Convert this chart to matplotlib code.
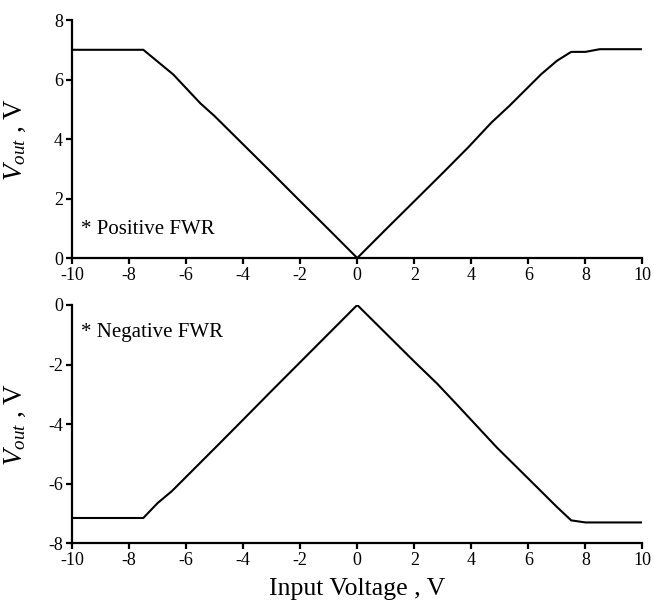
import matplotlib
matplotlib.use('Agg')
import matplotlib.pyplot as plt

plt.rcParams['font.family'] = ['Liberation Serif', 'DejaVu Serif']
plt.rcParams['mathtext.fontset'] = 'custom'
plt.rcParams['mathtext.rm'] = 'Liberation Serif'
plt.rcParams['mathtext.it'] = 'Liberation Serif:italic'
plt.rcParams['axes.unicode_minus'] = False

# positive full-wave rectifier
vin_pos = [-10, -7.5, -6.45, -5.5, -5, -4, -3, -2, -1, 0,
           1, 2, 3, 3.9, 4.7, 5.35, 6.45, 7.0, 7.5, 8.0, 8.5, 10]
vout_pos = [7.0, 7.0, 6.17, 5.2, 4.77, 3.82, 2.87, 1.91, 0.96, 0,
            0.96, 1.91, 2.86, 3.73, 4.55, 5.13, 6.18, 6.63, 6.93, 6.93, 7.02, 7.02]

# negative full-wave rectifier
vin_neg = [-10, -7.5, -7.0, -6.5, -4.85, -4, -3, -2, -1, 0,
           1, 2, 2.8, 3.5, 4.9, 6, 7, 7.5, 8.0, 10]
vout_neg = [-7.15, -7.15, -6.65, -6.25, -4.67, -3.85, -2.88, -1.92, -0.96, 0,
            -0.95, -1.9, -2.64, -3.35, -4.79, -5.83, -6.78, -7.23, -7.3, -7.3]

xticks = [-10, -8, -6, -4, -2, 0, 2, 4, 6, 8, 10]

fig = plt.figure(figsize=(6.54, 6.02), dpi=100)
ax1 = fig.add_axes([0.1101, 0.5714, 0.8723, 0.3953])
ax2 = fig.add_axes([0.1101, 0.0975, 0.8723, 0.3959])

for ax in (ax1, ax2):
    ax.set_xlim(-10, 10)
    ax.set_xticks(xticks)
    for s in ('top', 'right'):
        ax.spines[s].set_visible(False)
    for s in ('left', 'bottom'):
        ax.spines[s].set_linewidth(1.6)
    ax.tick_params(direction='out', length=4, width=1.6, labelsize=13, pad=2.5)
    ax.set_ylabel(r'$V_{out}$ , V', fontsize=19.5)
    ax.yaxis.set_label_coords(-0.077, 0.5)

ax1.plot(vin_pos, vout_pos, color='black', lw=1.5)
ax1.set_ylim(0, 8)
ax1.set_yticks([0, 2, 4, 6, 8])
ax1.text(-9.7, 0.96, '* Positive FWR', fontsize=15, va='center', ha='left')

ax2.plot(vin_neg, vout_neg, color='black', lw=1.5)
ax2.set_ylim(-8, 0)
ax2.set_yticks([-8, -6, -4, -2, 0])
ax2.text(-9.7, -0.91, '* Negative FWR', fontsize=15, va='center', ha='left')
ax2.set_xlabel('Input Voltage , V', fontsize=18.5, labelpad=6)

fig.savefig('out.png', dpi=100)
